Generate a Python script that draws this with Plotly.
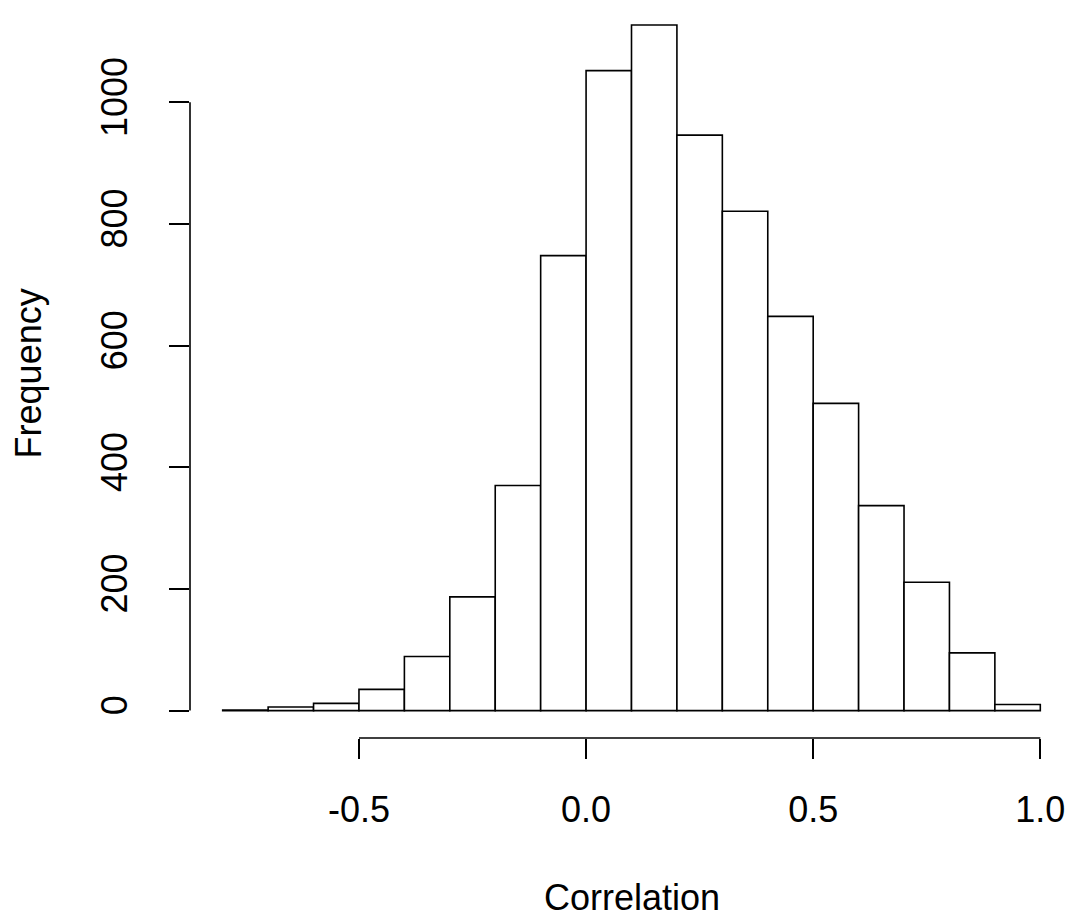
import plotly.graph_objects as go

bin_left = [-0.8,-0.7,-0.6,-0.5,-0.4,-0.3,-0.2,-0.1,0.0,0.1,0.2,0.3,0.4,0.5,0.6,0.7,0.8,0.9]
counts = [1,6,12,35,89,187,370,748,1052,1127,946,821,648,505,337,211,95,10]
x_ticks = [-0.5,0.0,0.5,1.0]
x_labels = ["-0.5","0.0","0.5","1.0"]
y_ticks = [0,200,400,600,800,1000]

centers = [b+0.05 for b in bin_left]
fig = go.Figure(go.Bar(x=centers, y=counts, width=0.1,
    marker=dict(color="white", line=dict(color="black", width=1.6))))
font = dict(family="Liberation Sans, Arial", size=36, color="black")
fig.update_layout(
    width=1073, height=920, margin=dict(l=182, r=8, t=0, b=190),
    plot_bgcolor="white", paper_bgcolor="white", showlegend=False, font=font,
    xaxis=dict(range=[-0.872,1.072], tickvals=x_ticks, ticktext=x_labels,
               ticks="outside", ticklen=20, tickwidth=1.6, tickcolor="black",
               showgrid=False, zeroline=False, showline=False, ticklabelstandoff=20,
               tickfont=font),
    yaxis=dict(range=[-45,1155], tickvals=y_ticks, ticks="outside", ticklen=20,
               tickwidth=1.6, tickcolor="black", tickangle=-90,
               showgrid=False, zeroline=False, showline=False, ticklabelstandoff=28,
               tickfont=font),
    shapes=[
        dict(type="line", xref="x", yref="paper", x0=x_ticks[0], x1=x_ticks[-1], y0=0, y1=0,
             line=dict(color="black", width=1.6)),
        dict(type="line", xref="paper", yref="y", x0=0, x1=0, y0=y_ticks[0], y1=y_ticks[-1],
             line=dict(color="black", width=1.6)),
    ],
    annotations=[
        dict(text="Correlation", xref="paper", yref="paper", x=0.5, y=-0.218,
             yanchor="middle", showarrow=False, font=font),
        dict(text="Frequency", xref="paper", yref="paper", x=-0.183, y=0.5,
             textangle=-90, xanchor="center", showarrow=False, font=font),
    ],
)
fig.write_html("out.html")
